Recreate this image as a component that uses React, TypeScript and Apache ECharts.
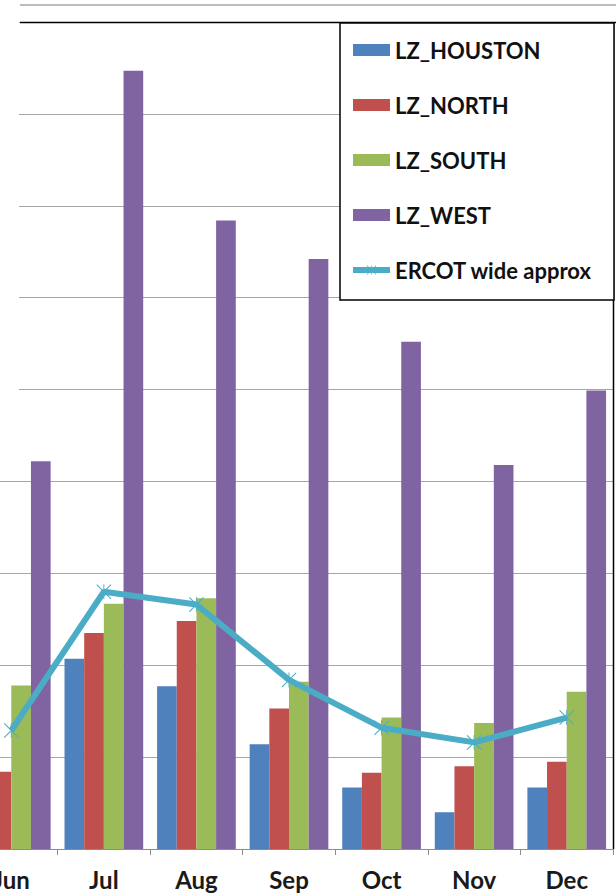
import React, { useEffect, useRef } from "react";
import * as echarts from "echarts";

const months = ["Jun", "Jul", "Aug", "Sep", "Oct", "Nov", "Dec"];
const houston = [0.9, 2.07, 1.77, 1.14, 0.67, 0.4, 0.67];
const north = [0.84, 2.35, 2.48, 1.53, 0.83, 0.9, 0.95];
const south = [1.78, 2.67, 2.73, 1.82, 1.43, 1.37, 1.71];
const west = [4.22, 8.47, 6.84, 6.42, 5.52, 4.18, 4.99];
const ercot = [1.29, 2.8, 2.66, 1.84, 1.32, 1.16, 1.43];

const FONT = "Lato";
const SHIFT = 35;
const starPath =
  "path://M0,1 L1,0 L10,9 L19,0 L20,1 L11,10 L20,19 L19,20 L10,11 L1,20 L0,19 L9,10 Z M9.4,0 L10.6,0 L10.6,20 L9.4,20 Z";

export default function App() {
  const ref = useRef<HTMLDivElement>(null);
  useEffect(() => {
    if (!ref.current) return;
    const chart = echarts.init(ref.current, undefined, { renderer: "svg" });
    const bar = (name: string, data: number[], color: string) => ({
      name,
      type: "bar",
      data,
      itemStyle: { color },
      barGap: "0%",
      barCategoryGap: "15%",
      emphasis: { disabled: true },
    });
    chart.setOption({
      animation: false,
      backgroundColor: "#ffffff",
      grid: { left: 0, right: 3, top: 22, bottom: 47 },
      xAxis: {
        type: "category",
        data: months,
        axisLine: { lineStyle: { color: "#8c8c8c", width: 1 } },
        axisTick: { show: true, length: 6, lineStyle: { color: "#8c8c8c" } },
        axisLabel: {
          fontFamily: FONT,
          fontWeight: "bold",
          fontSize: 24,
          color: "#1a1a1a",
          margin: 18,
        },
      },
      yAxis: {
        type: "value",
        min: 0,
        max: 9,
        interval: 1,
        axisLabel: { show: false },
        axisLine: { show: false },
        axisTick: { show: false },
        splitLine: { lineStyle: { color: "#a6a6a6", width: 1 } },
      },
      legend: {
        orient: "vertical",
        left: 350 + SHIFT,
        top: 39,
        padding: 0,
        itemWidth: 37,
        itemHeight: 12,
        itemGap: 33,
        z: 20,
        selectedMode: false,
        textStyle: {
          fontFamily: FONT,
          fontWeight: "bold",
          fontSize: 22,
          lineHeight: 22,
          color: "#111111",
        },
        data: [
          { name: "LZ_HOUSTON", icon: "rect" },
          { name: "LZ_NORTH", icon: "rect" },
          { name: "LZ_SOUTH", icon: "rect" },
          { name: "LZ_WEST", icon: "rect" },
          { name: "ERCOT wide approx", lineStyle: { width: 6 } },
        ],
      },
      graphic: [
        {
          type: "rect",
          z: 10,
          shape: { x: SHIFT, y: 0, width: 19, height: 470 },
          style: { fill: "#ffffff" },
        },
        {
          type: "line",
          z: 10,
          shape: { x1: 20 + SHIFT, y1: 5, x2: 616 + SHIFT, y2: 5 },
          style: { stroke: "#a6a6a6", lineWidth: 1.5 },
        },
        {
          type: "line",
          z: 10,
          shape: { x1: 20 + SHIFT, y1: 22.5, x2: 616 + SHIFT, y2: 22.5 },
          style: { stroke: "#000000", lineWidth: 1.5 },
        },
        {
          type: "line",
          z: 10,
          shape: { x1: 613.5 + SHIFT, y1: 22, x2: 613.5 + SHIFT, y2: 849 },
          style: { stroke: "#000000", lineWidth: 1.5 },
        },
        {
          type: "rect",
          z: 10,
          shape: { x: 340 + SHIFT, y: 23, width: 274, height: 277 },
          style: { fill: "#ffffff", stroke: "#000000", lineWidth: 1.5 },
        },
      ],
      series: [
        bar("LZ_HOUSTON", houston, "#4F81BD"),
        bar("LZ_NORTH", north, "#C0504D"),
        bar("LZ_SOUTH", south, "#9BBB59"),
        bar("LZ_WEST", west, "#8064A2"),
        {
          name: "ERCOT wide approx",
          type: "line",
          data: ercot,
          z: 5,
          color: "#4BACC6",
          lineStyle: { color: "#4BACC6", width: 6 },
          symbol: starPath,
          symbolSize: 15,
          itemStyle: { color: "#4BACC6" },
          emphasis: { disabled: true },
        },
      ],
    });
    return () => chart.dispose();
  }, []);
  return (
    <div
      style={{
        position: "fixed",
        left: 0,
        top: 0,
        width: 616,
        height: 896,
        overflow: "hidden",
        background: "#ffffff",
      }}
    >
      <div
        ref={ref}
        style={{ position: "absolute", left: -SHIFT, top: 0, width: 616 + SHIFT, height: 896 }}
      />
    </div>
  );
}
